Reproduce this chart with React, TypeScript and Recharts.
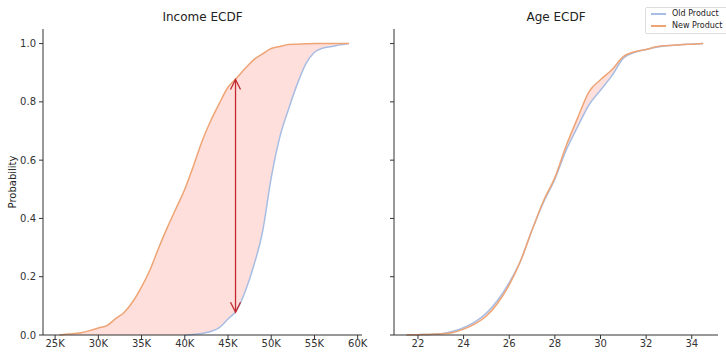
import { ComposedChart, Line, Area, XAxis, YAxis, ReferenceLine } from "recharts";

const incomeX = [
  25500, 26000, 27000, 28000, 29000, 30000, 31000, 32000, 33000, 34000, 35000, 36000,
  37000, 38000, 39000, 40000, 41000, 42000, 43000, 44000, 45000, 46000, 47000, 48000,
  49000, 50000, 51000, 52000, 53000, 54000, 55000, 56000, 57000, 58000, 59000,
];
const incomeOld = [
  null, null, null, null, null, null, null, null, null, null, null, null,
  null, null, null, 0, 0.002, 0.005, 0.012, 0.025, 0.055, 0.085, 0.15, 0.24,
  0.355, 0.54, 0.68, 0.775, 0.86, 0.93, 0.97, 0.985, 0.99, 0.996, 1.0,
];
const incomeNew = [
  0, 0.002, 0.004, 0.008, 0.015, 0.024, 0.032, 0.056, 0.078, 0.115, 0.165, 0.225,
  0.3, 0.37, 0.435, 0.5, 0.58, 0.665, 0.735, 0.795, 0.85, 0.882, 0.915, 0.945,
  0.965, 0.983, 0.99, 0.997, 0.998, 0.999, 1.0, 1.0, 1.0, 1.0, 1.0,
];
const incomeTicks = [25000, 30000, 35000, 40000, 45000, 50000, 55000, 60000];
const arrowX = 45870;
const arrowLow = 0.078;
const arrowHigh = 0.877;

const ageX = [
  21.5, 22, 22.5, 23, 23.5, 24, 24.5, 25, 25.5, 26, 26.5, 27, 27.5, 28,
  28.5, 29, 29.5, 30, 30.5, 31, 31.5, 32, 32.5, 33, 33.5, 34, 34.5,
];
const ageOld = [
  0, 0.001, 0.002, 0.004, 0.012, 0.025, 0.045, 0.075, 0.12, 0.18, 0.255, 0.36, 0.455, 0.535,
  0.635, 0.715, 0.79, 0.84, 0.89, 0.95, 0.97, 0.98, 0.988, 0.993, 0.996, 0.998, 1.0,
];
const ageNew = [
  0, 0.001, 0.002, 0.004, 0.008, 0.02, 0.038, 0.065, 0.11, 0.172, 0.255, 0.36, 0.46, 0.54,
  0.65, 0.745, 0.835, 0.876, 0.91, 0.955, 0.972, 0.98, 0.99, 0.993, 0.996, 0.998, 1.0,
];
const ageTicks = [22, 24, 26, 28, 30, 32, 34];
const probTicks = [0, 0.2, 0.4, 0.6, 0.8, 1.0];

const OLD = "#a7bde3";
const NEW = "#eea474";
const FILL = "#fa8072";
const AXIS = "#333";
const FONT = "DejaVu Sans, sans-serif";

const build = (xs: number[], olds: (number | null)[], news: number[]) =>
  xs.map((x, i) => {
    const o = olds[i];
    const n = news[i];
    const lo = Math.min(o ?? 0, n);
    const hi = Math.max(o ?? 0, n);
    return { x, old: o, new: n, band: [lo, hi] };
  });

const incomeData = build(incomeX, incomeOld, incomeNew);
const ageData = build(ageX, ageOld, ageNew);

const Arrow = (p: any) => {
  const x = p.x1;
  const top = Math.min(p.y1, p.y2);
  const bot = Math.max(p.y1, p.y2);
  return (
    <g stroke="#c22a30" strokeWidth={1.3} fill="none">
      <line x1={x} y1={top} x2={x} y2={bot} />
      <polyline points={`${x - 5},${top + 10} ${x},${top} ${x + 5},${top + 10}`} />
      <polyline points={`${x - 5},${bot - 10} ${x},${bot} ${x + 5},${bot - 10}`} />
    </g>
  );
};

const tickStyle = { fill: AXIS, fontSize: 10, fontFamily: FONT };

export default function App() {
  return (
    <div style={{ position: "absolute", left: 0, top: 0, width: 726, height: 352, overflow: "hidden", background: "#fff", fontFamily: FONT }}>
      <div style={{ position: "absolute", left: 43, width: 319, top: 10, textAlign: "center", fontSize: 12, color: "#222" }}>Income ECDF</div>
      <div style={{ position: "absolute", left: 394, width: 324, top: 10, textAlign: "center", fontSize: 12, color: "#222" }}>Age ECDF</div>
      <div style={{ position: "absolute", left: 12, top: 182, transform: "translate(-50%, -50%) rotate(-90deg)", fontSize: 10, color: "#222", whiteSpace: "nowrap" }}>Probability</div>

      <div style={{ position: "absolute", left: 0, top: 0 }}>
        <ComposedChart width={370} height={352} data={incomeData} margin={{ top: 29, right: 8, bottom: 0, left: 0 }}>
          <XAxis dataKey="x" type="number" domain={[23600, 60500]} ticks={incomeTicks} allowDataOverflow
            tickFormatter={(v) => `${v / 1000}K`} height={17} tickSize={4} tickMargin={1}
            axisLine={{ stroke: AXIS }} tickLine={{ stroke: AXIS }} tick={tickStyle} />
          <YAxis type="number" domain={[0, 1.05]} ticks={probTicks} width={43} tickSize={4} tickMargin={3}
            tickFormatter={(v) => v.toFixed(1)} axisLine={{ stroke: AXIS }} tickLine={{ stroke: AXIS }} tick={tickStyle} />
          <Area dataKey="band" type="monotoneX" stroke="none" fill={FILL} fillOpacity={0.25} isAnimationActive={false} />
          <Line dataKey="old" type="monotoneX" stroke={OLD} strokeWidth={1.5} dot={false} isAnimationActive={false} />
          <Line dataKey="new" type="monotoneX" stroke={NEW} strokeWidth={1.5} dot={false} isAnimationActive={false} />
          <ReferenceLine segment={[{ x: arrowX, y: arrowLow }, { x: arrowX, y: arrowHigh }]} shape={Arrow} />
        </ComposedChart>
      </div>

      <div style={{ position: "absolute", left: 363, top: 0 }}>
        <ComposedChart width={363} height={352} data={ageData} margin={{ top: 29, right: 8, bottom: 0, left: 0 }}>
          <XAxis dataKey="x" type="number" domain={[20.95, 35.15]} ticks={ageTicks} allowDataOverflow
            height={17} tickSize={4} tickMargin={1}
            axisLine={{ stroke: AXIS }} tickLine={{ stroke: AXIS }} tick={tickStyle} />
          <YAxis type="number" domain={[0, 1.05]} ticks={probTicks} width={31} tickSize={4}
            axisLine={{ stroke: AXIS }} tickLine={{ stroke: AXIS }} tick={() => <g />} />
          <Area dataKey="band" type="monotoneX" stroke="none" fill={FILL} fillOpacity={0.25} isAnimationActive={false} />
          <Line dataKey="old" type="monotoneX" stroke={OLD} strokeWidth={1.5} dot={false} isAnimationActive={false} />
          <Line dataKey="new" type="monotoneX" stroke={NEW} strokeWidth={1.5} dot={false} isAnimationActive={false} />
        </ComposedChart>
      </div>

      <div style={{ position: "absolute", left: 645, top: 7, width: 90, height: 25, border: "1px solid #ddd", borderRadius: 2, background: "#fff", fontSize: 8, color: "#222" }}>
        <div style={{ position: "absolute", left: 5, top: 5, width: 15, height: 2, background: OLD }} />
        <div style={{ position: "absolute", left: 26, top: 0, lineHeight: "11px" }}>Old Product</div>
        <div style={{ position: "absolute", left: 5, top: 17, width: 15, height: 2, background: NEW }} />
        <div style={{ position: "absolute", left: 26, top: 12, lineHeight: "11px" }}>New Product</div>
      </div>
    </div>
  );
}
